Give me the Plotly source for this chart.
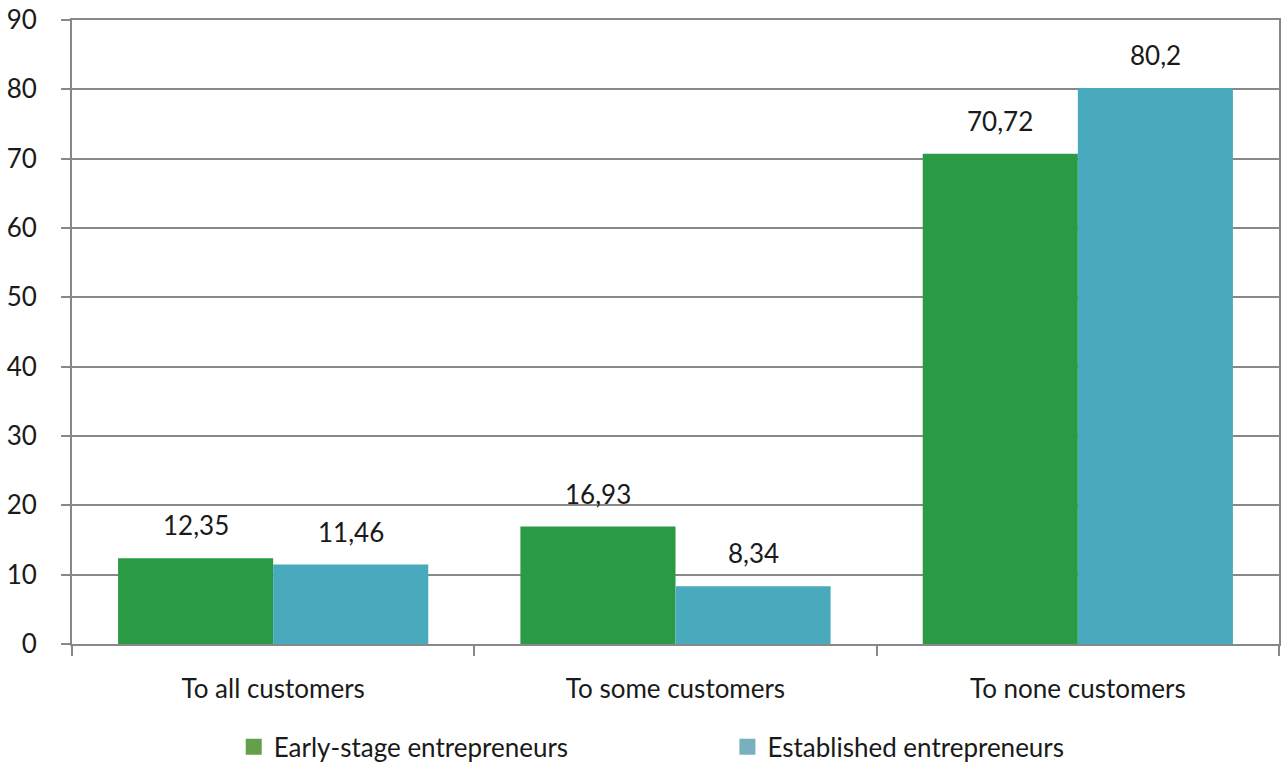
import plotly.graph_objects as go

categories = ["To all customers", "To some customers", "To none customers"]
early_stage = [12.35, 16.93, 70.72]
established = [11.46, 8.34, 80.2]
series_names = ["Early-stage entrepreneurs", "Established entrepreneurs"]
y_ticks = [0, 10, 20, 30, 40, 50, 60, 70, 80, 90]

bar_colors = ["#2a9a44", "#4aaabd"]
legend_colors = ["#64a04a", "#78b0bf"]
FONT = "Lato"
GRID = "#888888"

fig = go.Figure()
for vals, name, col in [(early_stage, series_names[0], bar_colors[0]),
                        (established, series_names[1], bar_colors[1])]:
    fig.add_trace(go.Bar(x=categories, y=vals, name=name, marker_color=col,
                         marker_line_width=0, showlegend=False))

# legend-only markers
for i, (name, col) in enumerate(zip(series_names, legend_colors)):
    fig.add_trace(go.Scatter(x=[None], y=[None], mode="markers", name=name,
                             marker=dict(symbol="square", size=16, color=col),
                             legend="legend" if i == 0 else "legend2"))

# value labels
for vals, sign in [(early_stage, -1), (established, 1)]:
    for c, v in zip(categories, vals):
        fig.add_annotation(x=c, y=v, xref="x", yref="y",
                           text=str(v).replace(".", ","), showarrow=False,
                           xshift=sign * 77.5, yshift=33, yanchor="middle",
                           font=dict(family=FONT, size=26, color="#1a1a1a"))

fig.update_layout(
    width=1288, height=764,
    margin=dict(l=72, r=9, t=20, b=120, autoexpand=False),
    plot_bgcolor="white", paper_bgcolor="white",
    barmode="group", bargap=0.229, bargroupgap=0,
    font=dict(family=FONT, size=26, color="#1a1a1a"),
    xaxis=dict(type="category", tickson="boundaries", ticks="outside",
               ticklen=10, tickwidth=2, tickcolor=GRID, automargin=False,
               showline=True, linecolor=GRID, linewidth=2, mirror=True,
               showgrid=False, ticklabelstandoff=21,
               tickfont=dict(family=FONT, size=26, color="#1a1a1a")),
    yaxis=dict(range=[0, 90], tickvals=y_ticks, ticks="outside", ticklen=9,
               tickwidth=2, tickcolor=GRID, showline=True, linecolor=GRID,
               linewidth=2, mirror=True, showgrid=True, gridcolor=GRID,
               gridwidth=2, zeroline=False, ticklabelstandoff=19,
               automargin=False,
               tickfont=dict(family=FONT, size=26, color="#1a1a1a")),
    legend=dict(orientation="h", x=0.134, xanchor="left", y=-0.165,
                yanchor="middle", font=dict(family=FONT, size=26, color="#1a1a1a"),
                bgcolor="rgba(0,0,0,0)"),
    legend2=dict(orientation="h", x=0.543, xanchor="left", y=-0.165,
                 yanchor="middle", font=dict(family=FONT, size=26, color="#1a1a1a"),
                 bgcolor="rgba(0,0,0,0)"),
)

fig.write_html("out.html",
               config={"displayModeBar": False},
               post_script="document.body.style.margin='0';"
                           "document.documentElement.style.overflow='hidden';")
